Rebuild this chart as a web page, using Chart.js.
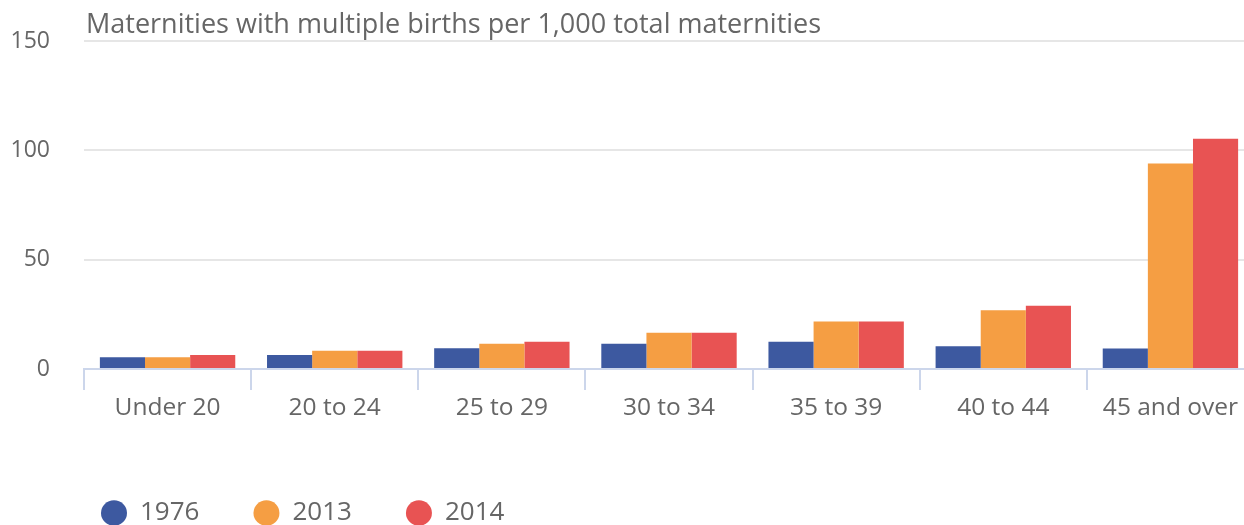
<!DOCTYPE html>
<html>
<head>
<meta charset="utf-8">
<script src="https://cdn.jsdelivr.net/npm/chart.js@4/dist/chart.umd.min.js"></script>
<style>
  html, body { margin: 0; padding: 0; background: #fff; overflow: hidden; }
  #wrap { width: 1254px; height: 525px; }
</style>
</head>
<body>
<div id="wrap"><canvas id="chart" width="1254" height="525"></canvas></div>
<script>
const categories = ['Under 20', '20 to 24', '25 to 29', '30 to 34', '35 to 39', '40 to 44', '45 and over'];
const values1976 = [5.4, 6.4, 9.5, 11.6, 12.5, 10.4, 9.4];
const values2013 = [5.4, 8.4, 11.5, 16.6, 21.7, 26.9, 94.0];
const values2014 = [6.4, 8.4, 12.5, 16.6, 21.7, 28.9, 105.3];
const yTicks = [0, 50, 100, 150];
const chartTitle = 'Maternities with multiple births per 1,000 total maternities';

const fontFamily = '"Open Sans", "Noto Sans", sans-serif';
const textColor = '#666666';

// title sits over the plot area, not over the whole canvas
const titlePlugin = {
    id: 'plotTitle',
    afterDraw(chart) {
        const ctx = chart.ctx;
        ctx.save();
        ctx.font = '27px ' + fontFamily;
        ctx.fillStyle = textColor;
        ctx.textAlign = 'left';
        ctx.textBaseline = 'alphabetic';
        ctx.fillText(chartTitle, chart.chartArea.left + 2, 33);
        ctx.restore();
    }
};

// push the legend right and a bit down
const legendShift = {
    id: 'legendShift',
    afterLayout(chart) {
        chart.legend.left += 37;
        chart.legend.top += 11;
    }
};

new Chart(document.getElementById('chart'), {
    type: 'bar',
    data: {
        labels: categories,
        datasets: [
            { label: '1976', data: values1976, backgroundColor: '#3d59a0' },
            { label: '2013', data: values2013, backgroundColor: '#f59e43' },
            { label: '2014', data: values2014, backgroundColor: '#e85353' }
        ]
    },
    options: {
        responsive: false,
        animation: false,
        devicePixelRatio: 1,
        layout: { padding: { left: 10, top: 41, right: 0, bottom: 0 } },
        datasets: {
            bar: { categoryPercentage: 0.81, barPercentage: 1.0, borderWidth: 0 }
        },
        plugins: {
            legend: {
                position: 'bottom',
                align: 'start',
                labels: {
                    usePointStyle: true,
                    pointStyle: 'circle',
                    pointStyleWidth: 26,
                    boxHeight: 18,
                    padding: 54,
                    color: textColor,
                    font: { family: fontFamily, size: 26 }
                }
            },
            tooltip: { enabled: false },
            title: { display: false }
        },
        scales: {
            x: {
                afterFit(scale) { scale.height = 66; },
                grid: {
                    offset: true,
                    drawOnChartArea: false,
                    drawTicks: true,
                    tickLength: 21,
                    color: '#ccd6eb',
                    lineWidth: 2
                },
                border: { display: true, color: '#ccd6eb', width: 2 },
                ticks: {
                    padding: 3,
                    maxRotation: 0,
                    color: textColor,
                    font: { family: fontFamily, size: 24.5 }
                }
            },
            y: {
                min: 0,
                max: 150,
                afterFit(scale) { scale.width = 74; },
                afterBuildTicks(scale) { scale.ticks = yTicks.map(v => ({ value: v })); },
                // label gap comes from an invisible tick, ticks.padding would also pad the top
                grid: { color: '#e6e6e6', lineWidth: 2, drawTicks: true, tickLength: 34, tickColor: 'rgba(0,0,0,0)' },
                border: { display: false },
                ticks: {
                    padding: 0,
                    color: textColor,
                    font: { family: fontFamily, size: 23 }
                }
            }
        }
    },
    plugins: [titlePlugin, legendShift]
});
</script>
</body>
</html>
